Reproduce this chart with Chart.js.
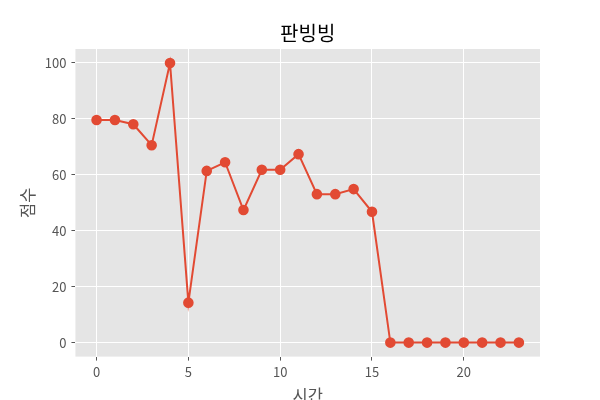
<!DOCTYPE html>
<html>
<head>
<meta charset="utf-8">
<script src="https://cdn.jsdelivr.net/npm/chart.js@4"></script>
<style>
  body { margin: 0; background: #fff; }
  #wrap { width: 600px; height: 400px; }
</style>
</head>
<body>
<div id="wrap"><canvas id="chart"></canvas></div>
<script>
const titleText = '판빙빙';
const xLabel = '시간';
const yLabel = '점수';
const hours = [0, 1, 2, 3, 4, 5, 6, 7, 8, 9, 10, 11, 12, 13, 14, 15, 16, 17, 18, 19, 20, 21, 22, 23];
const scores = [79.6, 79.6, 78.1, 70.6, 100, 14.3, 61.4, 64.5, 47.4, 61.8, 61.8, 67.4,
                53.1, 53.1, 54.9, 46.8, 0, 0, 0, 0, 0, 0, 0, 0];
const xTicks = [0, 5, 10, 15, 20];
const yTicks = [0, 20, 40, 60, 80, 100];

const fontFamily = "'Noto Sans CJK KR', 'Noto Sans', sans-serif";

// grey panel behind the plot, and a title centred over the plot (not the canvas)
const plotBackground = {
    id: 'plotBackground',
    beforeDraw(chart) {
        const { ctx, chartArea } = chart;
        ctx.save();
        ctx.fillStyle = '#E5E5E5';
        ctx.fillRect(chartArea.left, chartArea.top, chartArea.right - chartArea.left, chartArea.bottom - chartArea.top);
        ctx.restore();
    },
    afterDraw(chart) {
        const { ctx, chartArea } = chart;
        ctx.save();
        ctx.fillStyle = '#000';
        ctx.font = '20px ' + fontFamily;
        ctx.textAlign = 'center';
        ctx.textBaseline = 'middle';
        ctx.fillText(titleText, (chartArea.left + chartArea.right) / 2, 33);
        ctx.restore();
    }
};

new Chart(document.getElementById('chart').getContext('2d'), {
    type: 'line',
    data: {
        datasets: [{
            data: hours.map((h, i) => ({ x: h, y: scores[i] })),
            borderColor: '#E24A33',
            backgroundColor: '#E24A33',
            borderWidth: 2,
            pointRadius: 4.3,
            pointHoverRadius: 4.3,
            tension: 0
        }]
    },
    plugins: [plotBackground],
    options: {
        responsive: true,
        maintainAspectRatio: false,
        animation: false,
        layout: { padding: { left: 18, right: 60, top: 49, bottom: -6 } },
        plugins: {
            legend: { display: false },
            tooltip: { enabled: false },
            title: { display: false }
        },
        scales: {
            x: {
                type: 'linear',
                min: -1.15,
                max: 24.15,
                afterBuildTicks: scale => { scale.ticks = xTicks.map(v => ({ value: v })); },
                grid: { color: '#fff', lineWidth: 1, tickColor: '#555', tickLength: 4 },
                border: { display: false },
                ticks: { color: '#555', font: { family: fontFamily, size: 13 }, padding: 4 },
                title: {
                    display: true,
                    text: xLabel,
                    color: '#555',
                    font: { family: fontFamily, size: 16.5 },
                    padding: { top: 2, bottom: 0 }
                }
            },
            y: {
                min: -5,
                max: 105,
                afterBuildTicks: scale => { scale.ticks = yTicks.map(v => ({ value: v })); },
                grid: { color: '#fff', lineWidth: 1, tickColor: '#555', tickLength: 4 },
                border: { display: false },
                ticks: { color: '#555', font: { family: fontFamily, size: 13 }, padding: 5 },
                title: {
                    display: true,
                    text: yLabel,
                    color: '#555',
                    font: { family: fontFamily, size: 16.5 },
                    padding: { top: 0, bottom: 2 }
                }
            }
        }
    }
});
</script>
</body>
</html>
